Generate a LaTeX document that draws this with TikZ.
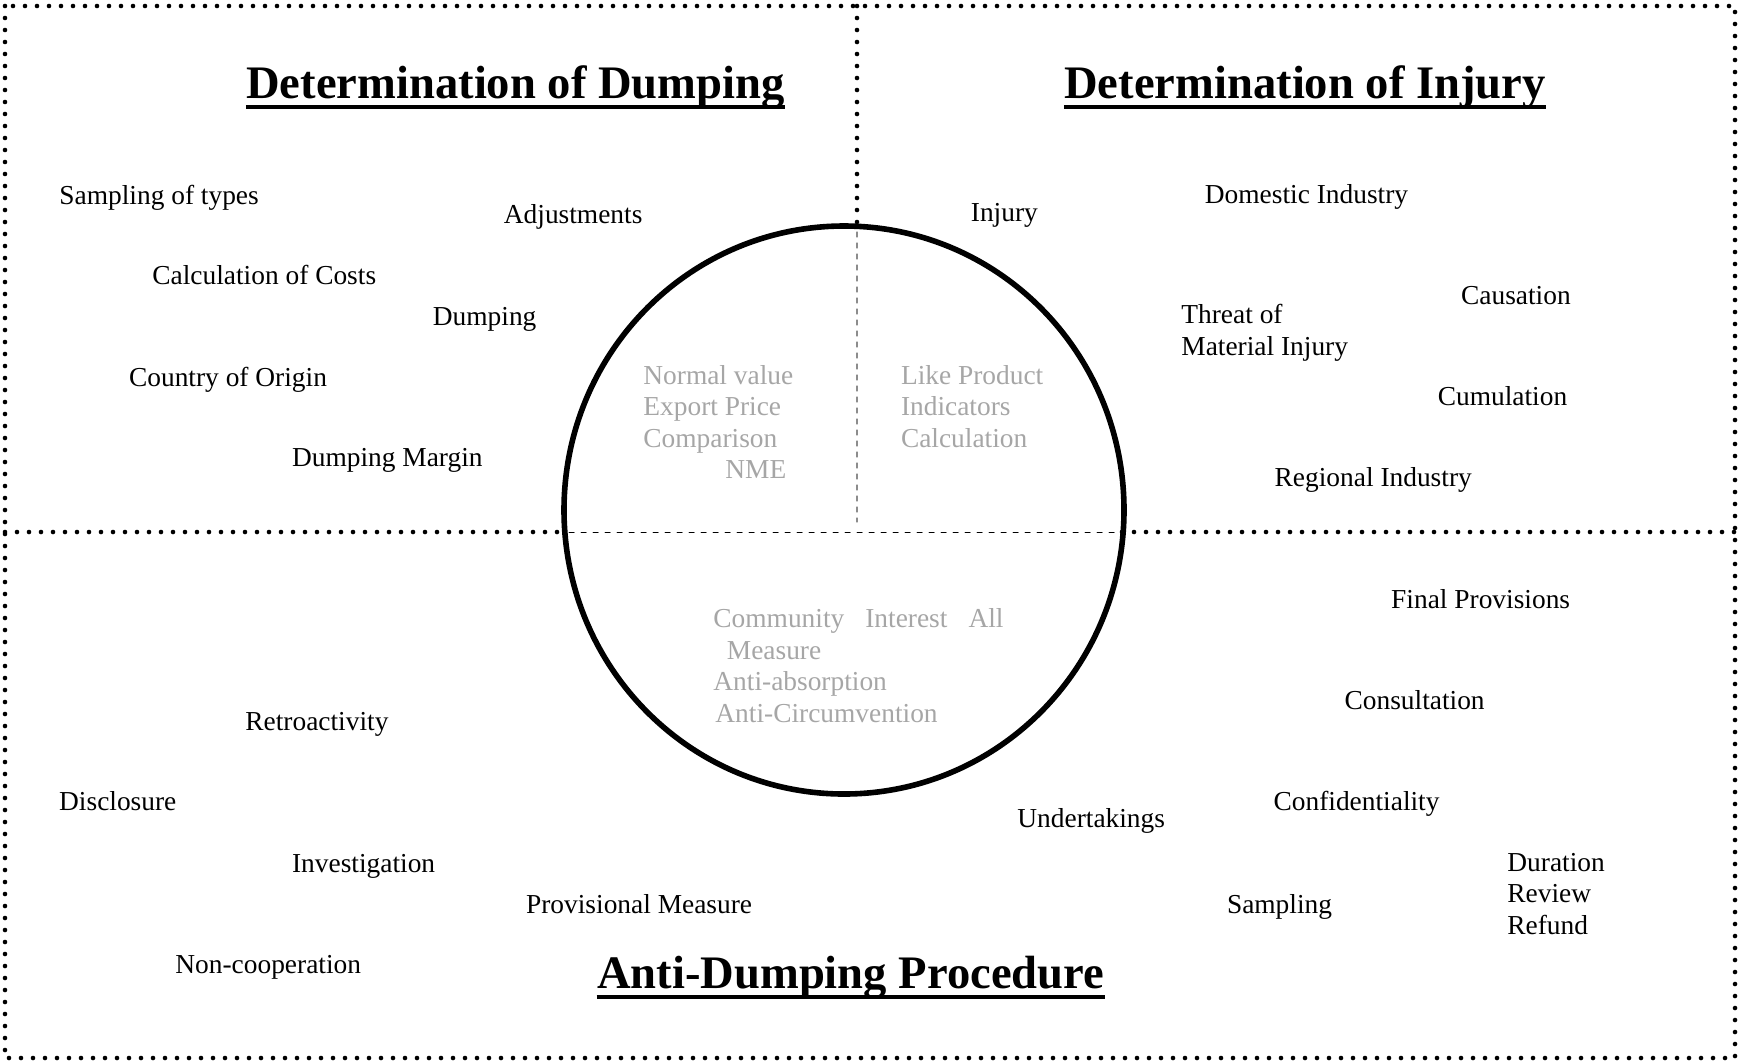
\documentclass[tikz,border=0pt]{standalone}
\usepackage{fontspec}
\setmainfont{Liberation Serif}
\usepackage{tikz}

\begin{document}
\begin{tikzpicture}[x=0.5pt,y=-0.5pt,line cap=round,line join=round,
	lbl/.style={anchor=base west,inner sep=0pt,font=\fontsize{13.7}{16}\selectfont},
	faint/.style={lbl,text=black!35},
	heading/.style={anchor=base,inner sep=0pt,font=\fontsize{23.3}{28}\selectfont\bfseries},
	dotline/.style={line width=2.3pt,dash pattern=on 0pt off 6pt}]
\useasboundingbox (0,0) rectangle (1739,1062);
% frame and quadrant lines
\draw[dotline] (5,6) rectangle (1735,1058);
\draw[dotline] (857,6) -- (857,226);
\draw[dotline] (5,532) -- (565,532);
\draw[dotline] (1122,532) -- (1735,532);
\draw[line width=2.8pt] (844,510) ellipse [x radius=280, y radius=284];
\draw[black!45,line width=0.6pt,dash pattern=on 2.5pt off 3pt] (857,232) -- (857,522);
\draw[line width=0.5pt,dash pattern=on 2.5pt off 3.5pt] (569,532) -- (1118,532);
% headings
\foreach \name/\x/\y/\t in {dumphead/515.5/98/Determination of Dumping,
	injhead/1305/98/Determination of Injury,
	prochead/850.6/988/Anti-Dumping Procedure} {
	\node[heading] (\name) at (\x,\y) {\t};
	\draw[line width=2pt,line cap=butt] ([yshift=-4.5pt]\name.base west) -- ([yshift=-4.5pt]\name.base east);
}
% determination of dumping
\node[lbl] (types) at (59,204) {Sampling of types};
\node[lbl] (adjust) at (503.5,223) {Adjustments};
\node[lbl] (costs) at (152,284) {Calculation of Costs};
\node[lbl] (dumping) at (432.5,325) {Dumping};
\node[lbl] (origin) at (128.7,386) {Country of Origin};
\node[lbl] (margin) at (291.7,466) {Dumping Margin};
% determination of injury
\node[lbl] (injury) at (970.5,221) {Injury};
\node[lbl] (domestic) at (1204.5,203) {Domestic Industry};
\node[lbl] (threat) at (1181,323) {Threat of};
\node[lbl] (material) at (1181,355) {Material Injury};
\node[lbl] (causation) at (1460.7,304) {Causation};
\node[lbl] (cumulation) at (1437.4,405) {Cumulation};
\node[lbl] (regional) at (1274.3,486) {Regional Industry};
% procedure
\node[lbl] (final) at (1390.8,608) {Final Provisions};
\node[lbl] (consult) at (1344.2,709) {Consultation};
\node[lbl] (confid) at (1273.2,810) {Confidentiality};
\node[lbl] (undertake) at (1017,827.5) {Undertakings};
\node[lbl] (duration) at (1507,871) {Duration};
\node[lbl] (review) at (1507,902) {Review};
\node[lbl] (refund) at (1507,934) {Refund};
\node[lbl] (sampling) at (1226.6,913) {Sampling};
\node[lbl] (retro) at (245,730) {Retroactivity};
\node[lbl] (disclose) at (58.8,810) {Disclosure};
\node[lbl] (investig) at (291.7,872) {Investigation};
\node[lbl] (provis) at (525.7,913) {Provisional Measure};
\node[lbl] (noncoop) at (175,973) {Non-cooperation};
% inside the circle
\node[faint] (normal) at (643,384) {Normal value};
\node[faint] (export) at (643,415) {Export Price};
\node[faint] (compare) at (643,447) {Comparison};
\node[faint] (nme) at (725,478) {NME};
\node[faint] (like) at (900.6,384) {Like Product};
\node[faint] (indic) at (900.6,415) {Indicators};
\node[faint] (calcul) at (900.6,447) {Calculation};
\node[faint] (commun) at (713,627) {Community\hspace{10.5pt}Interest\hspace{10.5pt}All};
\node[faint] (measure) at (726.5,659) {Measure};
\node[faint] (absorb) at (713,690) {Anti-absorption};
\node[faint] (circum) at (715,722) {Anti-Circumvention};
\end{tikzpicture}
\end{document}
